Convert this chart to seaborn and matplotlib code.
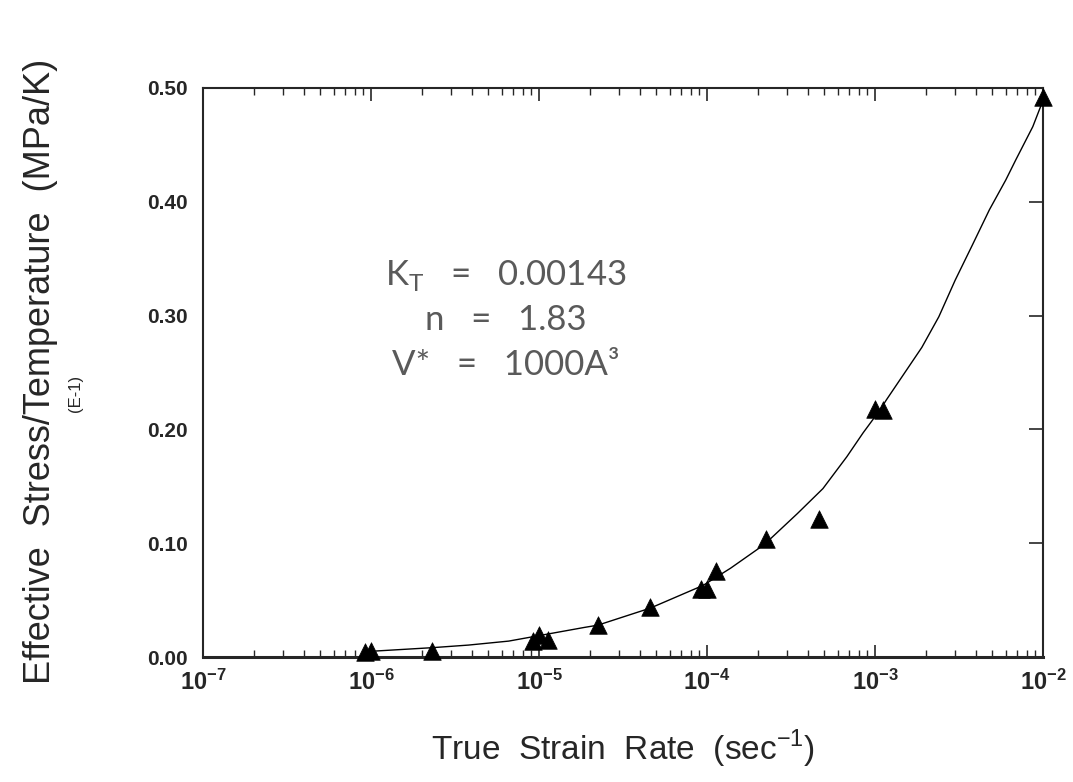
import numpy as np
import matplotlib
matplotlib.use("Agg")
import matplotlib.pyplot as plt
import matplotlib.ticker as mticker
import seaborn as sns

# measured points (strain rate in 1/s, stress/temperature in MPa/K x 10)
rate = [9.2e-7, 1.0e-6, 2.3e-6, 9.2e-6, 1.0e-5, 1.13e-5, 2.25e-5, 4.6e-5,
        9.2e-5, 1.0e-4, 1.13e-4, 2.25e-4, 4.65e-4, 1.0e-3, 1.11e-3, 1.0e-2]
stress = [0.004, 0.005, 0.005, 0.014, 0.019, 0.015, 0.028, 0.044,
          0.060, 0.060, 0.076, 0.104, 0.121, 0.218, 0.217, 0.492]

# fitted curve
fit_rate = [1.07e-6, 2.3e-6, 3.8e-6, 6.6e-6, 1.86e-5, 2.24e-5, 4.6e-5, 9.5e-5,
            1.38e-4, 2.2e-4, 3.45e-4, 4.9e-4, 6.8e-4, 8.5e-4, 1.07e-3, 1.17e-3,
            1.9e-3, 2.4e-3, 3.0e-3, 3.8e-3, 4.8e-3, 6.0e-3, 6.9e-3, 8.7e-3, 1.0e-2]
fit_stress = [0.0053, 0.0082, 0.0105, 0.014, 0.026, 0.028, 0.043, 0.063,
              0.078, 0.099, 0.126, 0.148, 0.176, 0.197, 0.217, 0.226,
              0.272, 0.299, 0.331, 0.362, 0.393, 0.419, 0.437, 0.466, 0.489]

x_ticks = [1e-7, 1e-6, 1e-5, 1e-4, 1e-3, 1e-2]
x_labels = [r'$\mathbf{10^{-7}}$', r'$\mathbf{10^{-6}}$', r'$\mathbf{10^{-5}}$',
            r'$\mathbf{10^{-4}}$', r'$\mathbf{10^{-3}}$', r'$\mathbf{10^{-2}}$']
y_ticks = [0.0, 0.1, 0.2, 0.3, 0.4, 0.5]

fit_lines = ['K$_{\\mathregular{T}}$   =   0.00143', 'n   =   1.83', 'V*   =   1000A³']

sns.set_style('ticks')
plt.rcParams['font.family'] = ['Liberation Sans', 'DejaVu Sans']
plt.rcParams['mathtext.fontset'] = 'custom'
plt.rcParams['mathtext.rm'] = 'Liberation Sans'
plt.rcParams['mathtext.bf'] = 'Liberation Sans:bold'

fig = plt.figure(figsize=(10.73, 7.82), dpi=100)
ax = fig.add_axes([0.1892, 0.1598, 0.7828, 0.7277])

sns.lineplot(x=fit_rate, y=fit_stress, ax=ax, color='black', lw=1.0, sort=True)
sns.scatterplot(x=rate, y=stress, ax=ax, marker='^', s=160, color='black',
                edgecolor='black', linewidth=0.5, zorder=5, clip_on=False)

ax.set_xscale('log')
ax.set_xlim(1e-7, 1e-2)
ax.set_ylim(0, 0.5)

ax.set_xticks(x_ticks)
ax.set_xticklabels(x_labels, fontsize=17)
ax.xaxis.set_minor_locator(mticker.LogLocator(base=10, subs=np.arange(2, 10), numticks=20))
ax.xaxis.set_minor_formatter(mticker.NullFormatter())
ax.tick_params(axis='x', which='major', direction='in', length=9, width=1.2,
               top=True, bottom=True, pad=9)
ax.tick_params(axis='x', which='minor', direction='in', length=5, width=1.0,
               top=True, bottom=True)

ax.set_yticks(y_ticks)
ax.set_yticklabels([f'{v:.2f}' for v in y_ticks], fontsize=15, fontweight='bold')
ax.tick_params(axis='y', which='major', direction='in', length=10, width=1.2,
               left=False, right=True, labelleft=True, pad=11)

for side in ['left', 'right', 'top']:
    ax.spines[side].set_linewidth(1.5)
ax.spines['bottom'].set_linewidth(2.2)

ax.set_xlabel(r'True  Strain  Rate  (sec$^{-1}$)', fontsize=24, labelpad=24)
fig.text(0.038, 0.525, 'Effective  Stress/Temperature  (MPa/K)', rotation=90,
         fontsize=26, ha='center', va='center')
fig.text(0.07, 0.497, '(E-1)', rotation=90, fontsize=12, ha='center', va='center')

for i, line in enumerate(fit_lines):
    ax.text(0.36, 0.671 - i * 0.079, line, transform=ax.transAxes, ha='center',
            va='center', fontsize=25, color='#5a5a5a',
            family=['Lato', 'DejaVu Sans'], fontweight='normal')

fig.savefig('out.png', dpi=100)
